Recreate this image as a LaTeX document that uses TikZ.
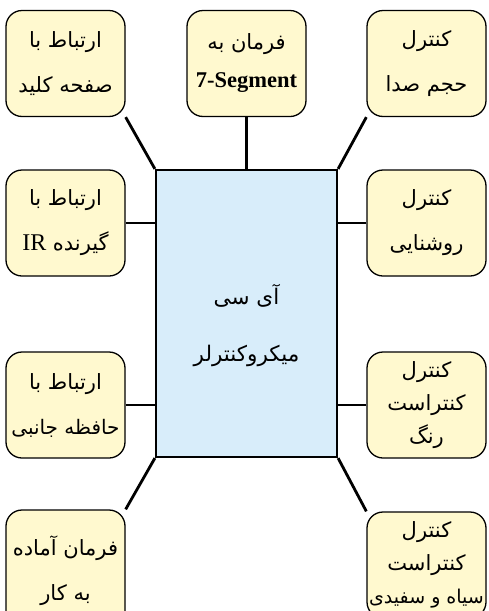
\documentclass[tikz,border=0pt]{standalone}
\usepackage{fontspec}
\setmainfont{Liberation Serif}
\newfontfamily\arabicfont[Script=Arabic]{DejaVu Sans}
\TeXXeTstate=1
\usetikzlibrary{backgrounds}
\definecolor{boxfill}{HTML}{FFF9CF}
\definecolor{mcufill}{HTML}{D8EDFA}
\newcommand{\fa}[1]{\beginR #1\endR}
\newcommand{\lat}[1]{\beginL{\rmfamily #1}\endL{}}
\tikzset{
  leaf/.style={draw=black, line width=1.3pt, fill=boxfill, rounded corners=16pt,
    minimum width=119pt, minimum height=106pt, inner sep=0pt, align=center,
    font=\arabicfont\fontsize{21}{45}\selectfont},
  leafthree/.style={leaf, font=\arabicfont\fontsize{21}{33}\selectfont},
  mcu/.style={draw=black, line width=2.2pt, fill=mcufill, minimum width=181pt,
    minimum height=287pt, inner sep=0pt},
  mcutext/.style={inner sep=0pt, align=center,
    font=\arabicfont\fontsize{21.5}{57}\selectfont},
  link/.style={draw=black, line width=2.8pt}
}
\begin{document}
\begin{tikzpicture}[x=1pt,y=1pt]
\useasboundingbox (0,0) rectangle (488,-611);
\node[mcu] (mcu) at (246.5,-313.5) {};
\node[mcutext] (mcut) at (246.5,-326) {\fa{آی سی}\\\fa{میکروکنترلر}};
\node[leaf] (tl) at (65.5,-63.5) {\fa{ارتباط با}\\\fa{صفحه کلید}};
\node[leaf, font=\arabicfont\fontsize{21}{38}\selectfont] (tm) at (246.5,-63.5) {\fa{فرمان به}\\{\rmfamily\bfseries\fontsize{22.5}{38}\selectfont 7-Segment}};
\node[leaf] (tr) at (426.5,-63.5) {\fa{کنترل}\\\fa{حجم صدا}};
\node[leaf] (ml) at (65.5,-223) {\fa{ارتباط با}\\\fa{گیرنده {\fontsize{24}{45}\selectfont\lat{IR}}}};
\node[leaf] (mr) at (426.5,-223) {\fa{کنترل}\\\fa{روشنایی}};
\node[leaf] (ll) at (65.5,-405) {\fa{ارتباط با}\\{\fontsize{20}{45}\selectfont\fa{حافظه جانبی}}};
\node[leafthree] (lr) at (426.5,-405) {\fa{کنترل}\\\fa{کنتراست}\\\fa{رنگ}};
\node[leaf, minimum height=122pt] (bl) at (65.5,-571) {\fa{فرمان آماده}\\\fa{به کار}};
\node[leafthree, minimum height=106pt] (br) at (426.5,-565) {\fa{کنترل}\\\fa{کنتراست}\\{\fontsize{19}{33}\selectfont\fa{سیاه و سفیدی}}};
\begin{scope}[on background layer]
  \draw[link] (mcu.north west) -- (tl.south east);
  \draw[link] (mcu.north) -- (tm.south);
  \draw[link] (mcu.north east) -- (tr.south west);
  \draw[link] (ml.east) -- (ml.east -| mcu.west);
  \draw[link] (mr.west) -- (mr.west -| mcu.east);
  \draw[link] (ll.east) -- (ll.east -| mcu.west);
  \draw[link] (lr.west) -- (lr.west -| mcu.east);
  \draw[link] (mcu.south west) -- (bl.north east);
  \draw[link] (mcu.south east) -- (br.north west);
\end{scope}
\end{tikzpicture}
\end{document}
